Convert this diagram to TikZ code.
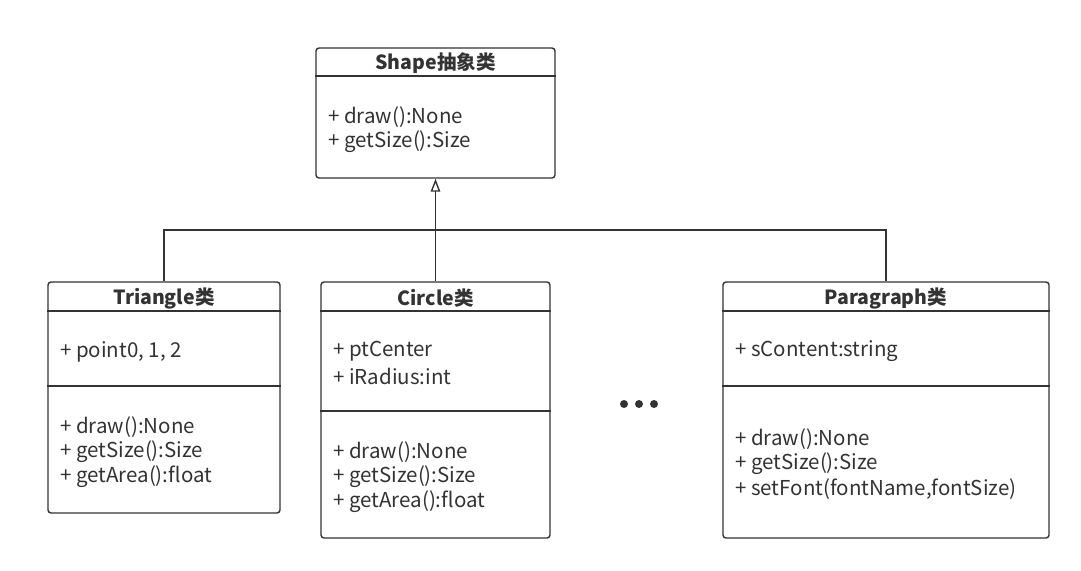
\documentclass[tikz,border=0pt]{standalone}
\usepackage{fontspec}
\setmainfont{Noto Sans CJK SC}
\usetikzlibrary{arrows.meta}
\definecolor{ln}{HTML}{333333}
\tikzset{
  box/.style={draw=ln, line width=1.4pt, rounded corners=3pt, inner sep=0pt, fill=white},
  sep/.style={draw=ln, line width=1.4pt},
  title/.style={font=\fontsize{19.5}{22}\selectfont\bfseries, text=ln, inner sep=0pt},
  item/.style={font=\fontsize{20.5}{24}\selectfont, text=ln, inner sep=0pt, anchor=west},
  conn/.style={draw=ln, line width=1.4pt},
  dot/.style={circle, fill=ln, inner sep=0pt, minimum size=8pt}
}
\begin{document}
\begin{tikzpicture}[x=1pt,y=-1pt]
\useasboundingbox (0,0) rectangle (1081,570);
% Shape
\node[box, minimum width=239pt, minimum height=130pt] (shape) at (435.5,113) {};
\draw[sep] (shape.west |- 0,76) -- (shape.east |- 0,76);
\node[title] (shapet) at (435.5,63) {Shape抽象类};
\node[item] (s1) at (328,117) {+ draw():None};
\node[item] (s2) at (328,142) {+ getSize():Size};
% Triangle
\node[box, minimum width=232pt, minimum height=231pt] (tri) at (164,397.5) {};
\draw[sep] (tri.west |- 0,311) -- (tri.east |- 0,311);
\draw[sep] (tri.west |- 0,386) -- (tri.east |- 0,386);
\node[title] (trit) at (164,298) {Triangle类};
\node[item] (t1) at (60,352) {+ point0, 1, 2};
\node[item] (t2) at (60,427) {+ draw():None};
\node[item] (t3) at (60,452) {+ getSize():Size};
\node[item] (t4) at (60,477) {+ getArea():float};
% Circle
\node[box, minimum width=229pt, minimum height=256pt] (circ) at (435.5,410) {};
\draw[sep] (circ.west |- 0,311) -- (circ.east |- 0,311);
\draw[sep] (circ.west |- 0,411) -- (circ.east |- 0,411);
\node[title] (circt) at (435.5,298) {Circle类};
\node[item] (c1) at (333,351) {+ ptCenter};
\node[item] (c2) at (333,376) {+ iRadius:int};
\node[item] (c3) at (333,452) {+ draw():None};
\node[item] (c4) at (333,477) {+ getSize():Size};
\node[item] (c5) at (333,502) {+ getArea():float};
% Paragraph
\node[box, minimum width=326pt, minimum height=256pt] (para) at (886,410) {};
\draw[sep] (para.west |- 0,311) -- (para.east |- 0,311);
\draw[sep] (para.west |- 0,386) -- (para.east |- 0,386);
\node[title] (parat) at (886,298) {Paragraph类};
\node[item] (p1) at (735,351) {+ sContent:string};
\node[item] (p2) at (735,439) {+ draw():None};
\node[item] (p3) at (735,464) {+ getSize():Size};
\node[item] (p4) at (735,489) {+ setFont(fontName,fontSize)};
% dots
\node[dot] (d1) at (624,404) {};
\node[dot] (d2) at (639,404) {};
\node[dot] (d3) at (654,404) {};
% connectors
\coordinate (j) at (435.5,230);
\draw[conn] (tri.north) |- (j) -| (para.north);
\draw[conn, -{Triangle[open, length=13pt, width=9.5pt, line width=1.4pt]}] (circ.north) -- (shape.south);
\end{tikzpicture}
\end{document}
